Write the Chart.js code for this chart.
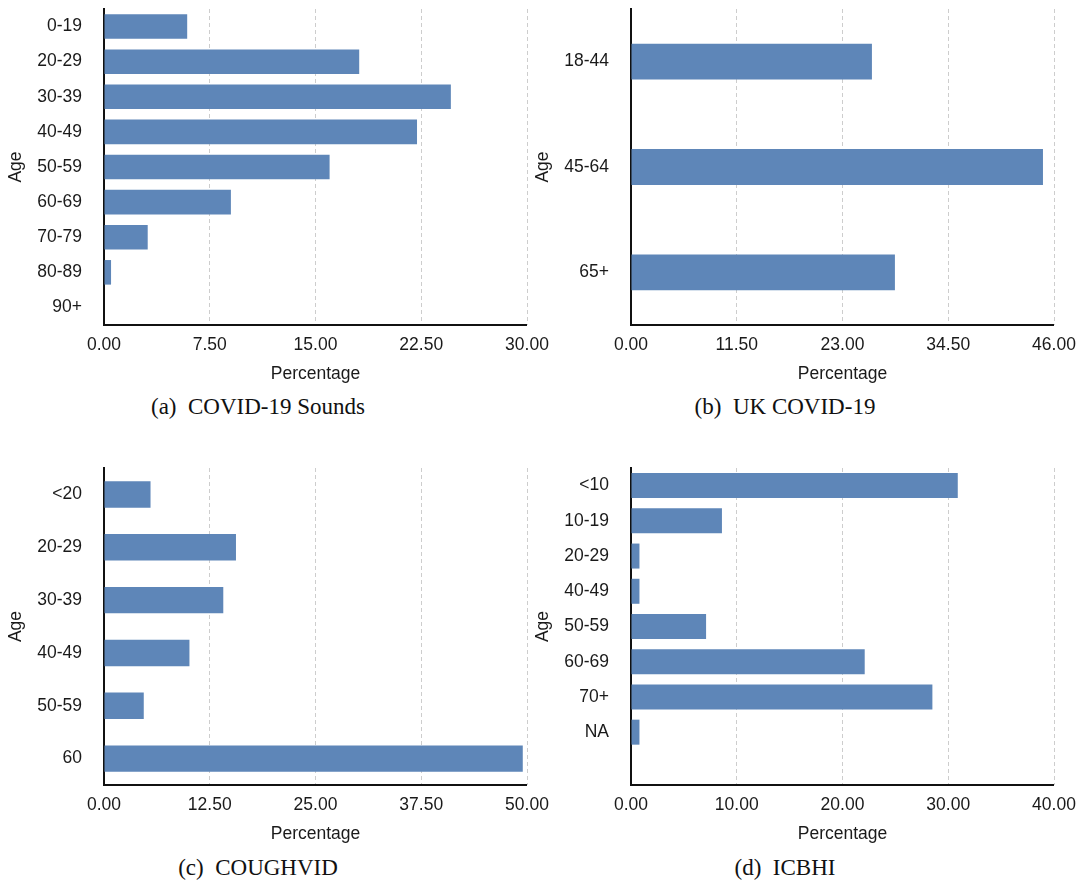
<!DOCTYPE html>
<html>
<head>
<meta charset="utf-8">
<script src="https://cdn.jsdelivr.net/npm/chart.js@4"></script>
<style>
  body { margin: 0; background: #fff; }
  #wrap { position: relative; width: 1082px; height: 882px; }
  .panel { position: absolute; }
  .cap {
    position: absolute; transform: translate(-50%, -50%);
    font-family: "Liberation Serif", "Times New Roman", serif;
    font-size: 23px; line-height: 1; color: #111; white-space: nowrap;
  }
</style>
</head>
<body>
<div id="wrap">
  <canvas id="chartA" class="panel" style="left:0;top:0"></canvas>
  <canvas id="chartB" class="panel" style="left:527px;top:0"></canvas>
  <canvas id="chartC" class="panel" style="left:0;top:460px"></canvas>
  <canvas id="chartD" class="panel" style="left:527px;top:460px"></canvas>
  <div class="cap" style="left:258px;top:406px">(a)&ensp;COVID-19 Sounds</div>
  <div class="cap" style="left:785px;top:406px">(b)&ensp;UK COVID-19</div>
  <div class="cap" style="left:258px;top:867px">(c)&ensp;COUGHVID</div>
  <div class="cap" style="left:785px;top:867px">(d)&ensp;ICBHI</div>
</div>
<script>
// (a) COVID-19 Sounds
const soundsAges = ["0-19", "20-29", "30-39", "40-49", "50-59", "60-69", "70-79", "80-89", "90+"];
const soundsPct = [5.9, 18.1, 24.6, 22.2, 16.0, 9.0, 3.1, 0.5, 0];
const soundsTicks = [0, 7.5, 15, 22.5, 30];

// (b) UK COVID-19
const ukAges = ["18-44", "45-64", "65+"];
const ukPct = [26.2, 44.8, 28.7];
const ukTicks = [0, 11.5, 23, 34.5, 46];

// (c) COUGHVID
const coughAges = ["<20", "20-29", "30-39", "40-49", "50-59", "60"];
const coughPct = [5.5, 15.6, 14.1, 10.1, 4.7, 49.5];
const coughTicks = [0, 12.5, 25, 37.5, 50];

// (d) ICBHI
const icbhiAges = ["<10", "10-19", "20-29", "40-49", "50-59", "60-69", "70+", "NA", ""];
const icbhiPct = [30.9, 8.6, 0.8, 0.8, 7.1, 22.1, 28.5, 0.8, null];
const icbhiTicks = [0, 10, 20, 30, 40];

const barColor = 'rgb(94,134,184)';
const textColor = '#1a1a1a';
const sansFont = { family: 'Liberation Sans, Arial, sans-serif', size: 17.5 };

function drawPanel(id, w, h, padTop, padRight, labels, values, ticks, barPct) {
  const canvas = document.getElementById(id);
  canvas.width = w;
  canvas.height = h;
  new Chart(canvas, {
    type: 'bar',
    data: {
      labels: labels,
      datasets: [{
        data: values,
        backgroundColor: barColor,
        categoryPercentage: 1,
        barPercentage: barPct
      }]
    },
    options: {
      indexAxis: 'y',
      responsive: false,
      animation: false,
      layout: { padding: { top: padTop, right: padRight, left: 0, bottom: 0 } },
      plugins: { legend: { display: false }, tooltip: { enabled: false } },
      scales: {
        x: {
          min: ticks[0],
          max: ticks[ticks.length - 1],
          afterFit: s => { s.height = 65; s.paddingLeft = 0; s.paddingRight = 0; },
          afterBuildTicks: s => { s.ticks = ticks.map(v => ({ value: v })); },
          ticks: {
            color: textColor, font: sansFont, padding: 10,
            maxRotation: 0, autoSkip: false,
            callback: v => Number(v).toFixed(2)
          },
          grid: { color: '#cdcdcd', lineWidth: 1, drawTicks: false },
          border: { display: false, dash: [4, 3] },
          title: { display: true, text: 'Percentage', color: textColor, font: sansFont, padding: { top: 0, bottom: 5 } }
        },
        y: {
          // keep the label padding from pushing the plot down
          afterFit: s => { s.width = 104; s.paddingTop = 0; s.paddingBottom = 0; },
          ticks: { color: textColor, font: sansFont, padding: 22, autoSkip: false },
          grid: { display: false, drawTicks: false },
          border: { display: true, color: '#111', width: 2 },
          title: { display: true, text: 'Age', color: textColor, font: sansFont, padding: { top: 6, bottom: 0 } }
        }
      }
    },
    plugins: [{
      // bottom axis line drawn along the plot's lower edge
      id: 'baseLine',
      afterDraw(chart) {
        const a = chart.chartArea, ctx = chart.ctx;
        ctx.save();
        ctx.strokeStyle = '#111';
        ctx.lineWidth = 2;
        ctx.beginPath();
        ctx.moveTo(a.left - 1, a.bottom);
        ctx.lineTo(a.right, a.bottom);
        ctx.stroke();
        ctx.restore();
      }
    }]
  });
}

drawPanel('chartA', 560, 390, 9, 33, soundsAges, soundsPct, soundsTicks, 0.7);
drawPanel('chartB', 555, 390, 9, 28, ukAges, ukPct, ukTicks, 0.34);
drawPanel('chartC', 560, 390, 8, 33, coughAges, coughPct, coughTicks, 0.5);
drawPanel('chartD', 555, 390, 8, 28, icbhiAges, icbhiPct, icbhiTicks, 0.71);
</script>
</body>
</html>
